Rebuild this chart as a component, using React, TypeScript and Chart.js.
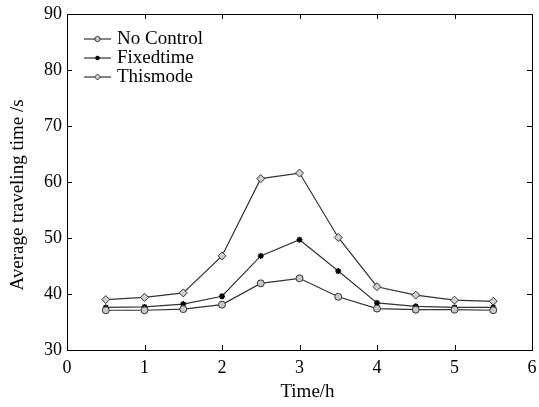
import React, { useEffect, useRef } from "react";
import { Chart, registerables } from "chart.js";

Chart.register(...registerables);

const hours = [0.5, 1, 1.5, 2, 2.5, 3, 3.5, 4, 4.5, 5, 5.5];
const noControl = [37.1, 37.1, 37.3, 38.1, 41.9, 42.8, 39.5, 37.4, 37.2, 37.2, 37.1];
const fixedtime = [37.6, 37.7, 38.2, 39.6, 46.8, 49.7, 44.1, 38.4, 37.8, 37.6, 37.6];
const thismode = [39.0, 39.4, 40.2, 46.8, 60.6, 61.6, 50.1, 41.3, 39.8, 38.9, 38.7];
const xTicks = [0, 1, 2, 3, 4, 5, 6];
const yTicks = [30, 40, 50, 60, 70, 80, 90];
const seriesNames = ["No Control", "Fixedtime", "Thismode"];
const xTitle = "Time/h";
const yTitle = "Average traveling time /s";

const FONT = "'Liberation Serif', 'Times New Roman', serif";
const LINE = "#333";

function drawMarker(ctx: CanvasRenderingContext2D, style: string, x: number, y: number, r: number, fill: string, stroke: string, lw: number) {
  ctx.save();
  ctx.fillStyle = fill;
  ctx.strokeStyle = stroke;
  ctx.lineWidth = lw;
  ctx.beginPath();
  if (style === "circle") {
    ctx.arc(x, y, r, 0, Math.PI * 2);
    ctx.fill();
    ctx.stroke();
  } else if (style === "rectRot") {
    ctx.moveTo(x, y - r);
    ctx.lineTo(x + r, y);
    ctx.lineTo(x, y + r);
    ctx.lineTo(x - r, y);
    ctx.closePath();
    ctx.fill();
    ctx.stroke();
  } else {
    for (let k = 0; k < 4; k++) {
      const ang = (k * Math.PI) / 4;
      ctx.moveTo(x - Math.cos(ang) * r, y - Math.sin(ang) * r);
      ctx.lineTo(x + Math.cos(ang) * r, y + Math.sin(ang) * r);
    }
    ctx.stroke();
  }
  ctx.restore();
}

const framePlugin = {
  id: "frame",
  afterDraw(chart: any) {
    const { ctx, chartArea: a, scales } = chart;
    ctx.save();
    ctx.strokeStyle = "#000";
    ctx.lineWidth = 1;
    ctx.strokeRect(Math.round(a.left) + 0.5, Math.round(a.top) + 0.5, Math.round(a.right - a.left), Math.round(a.bottom - a.top));
    const tl = 5;
    ctx.beginPath();
    xTicks.forEach((v) => {
      const x = Math.round(scales.x.getPixelForValue(v)) + 0.5;
      ctx.moveTo(x, a.bottom);
      ctx.lineTo(x, a.bottom - tl);
      ctx.moveTo(x, a.top);
      ctx.lineTo(x, a.top + tl);
    });
    yTicks.forEach((v) => {
      const y = Math.round(scales.y.getPixelForValue(v)) + 0.5;
      ctx.moveTo(a.left, y);
      ctx.lineTo(a.left + tl, y);
      ctx.moveTo(a.right, y);
      ctx.lineTo(a.right - tl, y);
    });
    ctx.stroke();

    // axis titles
    ctx.fillStyle = "#000";
    ctx.font = `19px ${FONT}`;
    ctx.textAlign = "center";
    ctx.textBaseline = "middle";
    ctx.fillText(xTitle, (a.left + a.right) / 2 + 8, a.bottom + 42);
    ctx.save();
    ctx.translate(18, (a.top + a.bottom) / 2 + 13);
    ctx.rotate(-Math.PI / 2);
    ctx.fillText(yTitle, 0, 0);
    ctx.restore();

    // legend
    const lx = a.left + 17;
    const ly0 = a.top + 25;
    const gap = 19;
    ctx.font = `19px ${FONT}`;
    ctx.textAlign = "left";
    ctx.textBaseline = "middle";
    chart.data.datasets.forEach((ds: any, i: number) => {
      const y = ly0 + i * gap;
      ctx.strokeStyle = LINE;
      ctx.lineWidth = 1.2;
      ctx.beginPath();
      ctx.moveTo(lx, y);
      ctx.lineTo(lx + 27, y);
      ctx.stroke();
      drawMarker(ctx, ds.pointStyle, lx + 13.5, y, ds.pointRadius * 0.75, ds.pointBackgroundColor, ds.pointBorderColor, ds.pointBorderWidth);
      ctx.fillStyle = "#000";
      ctx.fillText(ds.label, lx + 33, y);
    });
    ctx.restore();
  },
};

export default function App() {
  const ref = useRef<HTMLCanvasElement>(null);
  useEffect(() => {
    const mk = (arr: number[]) => hours.map((h, i) => ({ x: h, y: arr[i] }));
    const chart = new Chart(ref.current!, {
      type: "line",
      data: {
        datasets: [
          {
            label: seriesNames[0],
            data: mk(noControl),
            borderColor: LINE,
            borderWidth: 1.2,
            pointStyle: "circle",
            pointRadius: 3.5,
            pointBackgroundColor: "#c8c8c8",
            pointBorderColor: "#333",
            pointBorderWidth: 1,
          },
          {
            label: seriesNames[1],
            data: mk(fixedtime),
            borderColor: LINE,
            borderWidth: 1.2,
            pointStyle: "star",
            pointRadius: 3,
            pointBackgroundColor: "#000",
            pointBorderColor: "#000",
            pointBorderWidth: 1.5,
          },
          {
            label: seriesNames[2],
            data: mk(thismode),
            borderColor: LINE,
            borderWidth: 1.2,
            pointStyle: "rectRot",
            pointRadius: 4,
            pointBackgroundColor: "#d0d0d0",
            pointBorderColor: "#333",
            pointBorderWidth: 1,
          },
        ],
      },
      options: {
        animation: false,
        responsive: false,
        maintainAspectRatio: false,
        layout: { padding: { top: 14, right: 7, left: 0, bottom: 0 } },
        plugins: { legend: { display: false }, tooltip: { enabled: false } },
        scales: {
          x: {
            type: "linear",
            min: 0,
            max: 6,
            afterBuildTicks: (s: any) => { s.ticks = xTicks.map((v) => ({ value: v })); },
            afterFit: (s: any) => { s.height = 57; s.paddingRight = 0; s.paddingLeft = 0; },
            grid: { display: false, drawTicks: false },
            border: { display: false },
            ticks: { color: "#000", font: { family: FONT, size: 18 }, padding: 7, maxRotation: 0 },
          },
          y: {
            min: 30,
            max: 90,
            afterBuildTicks: (s: any) => { s.ticks = yTicks.map((v) => ({ value: v })); },
            afterFit: (s: any) => { s.width = 67; s.paddingTop = 0; s.paddingBottom = 0; },
            grid: { display: false, drawTicks: false },
            border: { display: false },
            ticks: { color: "#000", font: { family: FONT, size: 18 }, padding: 5 },
          },
        },
      },
      plugins: [framePlugin],
    } as any);
    return () => chart.destroy();
  }, []);
  return (
    <div style={{ position: "fixed", left: 0, top: 0, width: 539, height: 407, background: "#fff" }}>
      <canvas ref={ref} width={539} height={407} />
    </div>
  );
}
